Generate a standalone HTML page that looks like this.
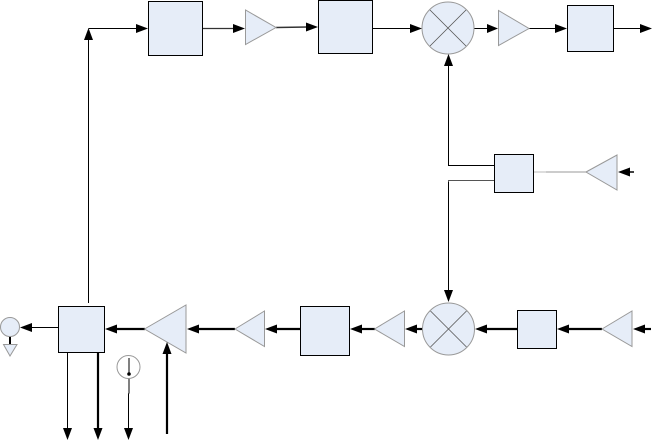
<!DOCTYPE html>
<html>
<head>
<meta charset="utf-8">
<style>
html,body{margin:0;padding:0;background:#fff}
svg{display:block}
</style>
</head>
<body>
<svg width="652" height="440" viewBox="0 0 652 440" xmlns="http://www.w3.org/2000/svg">
<g fill="none" stroke="#000" stroke-width="1">
  <!-- top chain lines -->
  <path d="M88.5 303V36M88.5 28.5H138"/>
  <path d="M202 28.5H235" stroke="#333" stroke-width="1.2"/>
  <path d="M276 27.5L308 27" stroke="#333" stroke-width="1.4"/>
  <path d="M372 28.5H412"/>
  <path d="M474 28.5H489"/>
  <path d="M529 28.5H557"/>
  <path d="M613 28.5H642"/>
  <!-- centre -->
  <path d="M448.5 64V165.5H494"/>
  <path d="M494 180.5H448.5V292" stroke="#555"/>
  <path d="M448.5 182V292"/>
  <path d="M533 172H586" stroke="#999"/>
  <path d="M533 172H546" stroke="#ddd" stroke-width="2"/>
  <path d="M628 172H634" stroke-width="1.5"/>
  <!-- bottom chain -->
  <g stroke-width="2.2">
    <path d="M114 329H145"/>
    <path d="M197 329H235"/>
    <path d="M275 329H300"/>
    <path d="M359 329H375"/>
    <path d="M415 329H423"/>
    <path d="M485 329H518"/>
    <path d="M566 329H602"/>
    <path d="M643 329H651"/>
  </g>
  <path d="M30 327.5H58.5"/>
  <path d="M10 336V344" stroke-width="2"/>
  <path d="M67.5 352V430"/>
  <path d="M98 352V430" stroke-width="2.2"/>
  <path d="M129 374V393L128.5 394V430"/>
  <path d="M167 352V434" stroke-width="2.2"/>
</g>

<!-- boxes -->
<g fill="#e6edf8" stroke="#000" stroke-width="1">
  <rect x="148.5" y="1.5" width="54" height="54"/>
  <rect x="318.5" y="0.5" width="54" height="53"/>
  <rect x="567.5" y="5.5" width="46" height="46"/>
  <rect x="494.5" y="154.5" width="39" height="38"/>
  <rect x="58.5" y="306.5" width="46" height="46"/>
  <rect x="300.5" y="306.5" width="49" height="49"/>
  <rect x="517.5" y="310.5" width="39" height="38"/>
</g>

<!-- triangles -->
<g fill="#e6edf8" stroke="#999" stroke-width="1">
  <path d="M245.5 10V44.5L276 27.5Z"/>
  <path d="M498.5 10.5V45.5L529 28.5Z"/>
  <path d="M586 172L617 155V190Z"/>
  <path d="M144.5 329L186 305V353Z"/>
  <path d="M235 329L264.5 311V346.5Z"/>
  <path d="M374.5 329L404.5 311V346.5Z"/>
  <path d="M602 329L632 311V346.5Z"/>
  <path d="M3.5 344.5H17L10 356Z"/>
  <circle cx="10" cy="327" r="9.5"/>
</g>

<!-- mixers -->
<g stroke="#999" stroke-width="1">
  <circle cx="448" cy="28" r="26" fill="#e6edf8"/>
  <circle cx="448.5" cy="329" r="26" fill="#e6edf8"/>
</g>
<g stroke="#555" stroke-width="0.8">
  <path d="M430 10L466 46M466 10L430 46"/>
  <path d="M430.5 311L466.5 347M466.5 311L430.5 347"/>
</g>

<!-- indicator -->
<circle cx="128.5" cy="367" r="11.5" fill="#fff" stroke="#999"/>
<path d="M129 358V374" stroke="#000"/>
<circle cx="129" cy="374" r="1.8" fill="#000"/>

<!-- arrowheads -->
<g fill="#000">
  <path d="M88.5 28L84 40H93Z"/>
  <path d="M148 28.5L136 24V33Z"/>
  <path d="M245 28.5L233 24V33Z"/>
  <path d="M318 27L306 22.5V31.5Z"/>
  <path d="M422 28.5L410 24V33Z"/>
  <path d="M498 28.5L487 24V33Z"/>
  <path d="M567 28.5L555 24V33Z"/>
  <path d="M652 28.5L640 24V33Z"/>
  <path d="M448.5 54L444 66H453Z"/>
  <path d="M448.5 302L444 290H453Z"/>
  <path d="M618 172L630 167.5V176.5Z"/>
  <path d="M20 327.5L32 323V332Z"/>
  <path d="M105 329L117 324.5V333.5Z"/>
  <path d="M187 329L199 324.5V333.5Z"/>
  <path d="M265 329L277 324.5V333.5Z"/>
  <path d="M350 329L362 324.5V333.5Z"/>
  <path d="M405 329L417 324.5V333.5Z"/>
  <path d="M475 329L487 324.5V333.5Z"/>
  <path d="M557 329L569 324.5V333.5Z"/>
  <path d="M633 329L645 324.5V333.5Z"/>
  <path d="M67.5 440L63 428H72Z"/>
  <path d="M98 440L93.5 428H102.5Z"/>
  <path d="M128.5 440L124 428H133Z"/>
  <path d="M167 342L162.5 354H171.5Z"/>
</g>
</svg>
</body>
</html>
